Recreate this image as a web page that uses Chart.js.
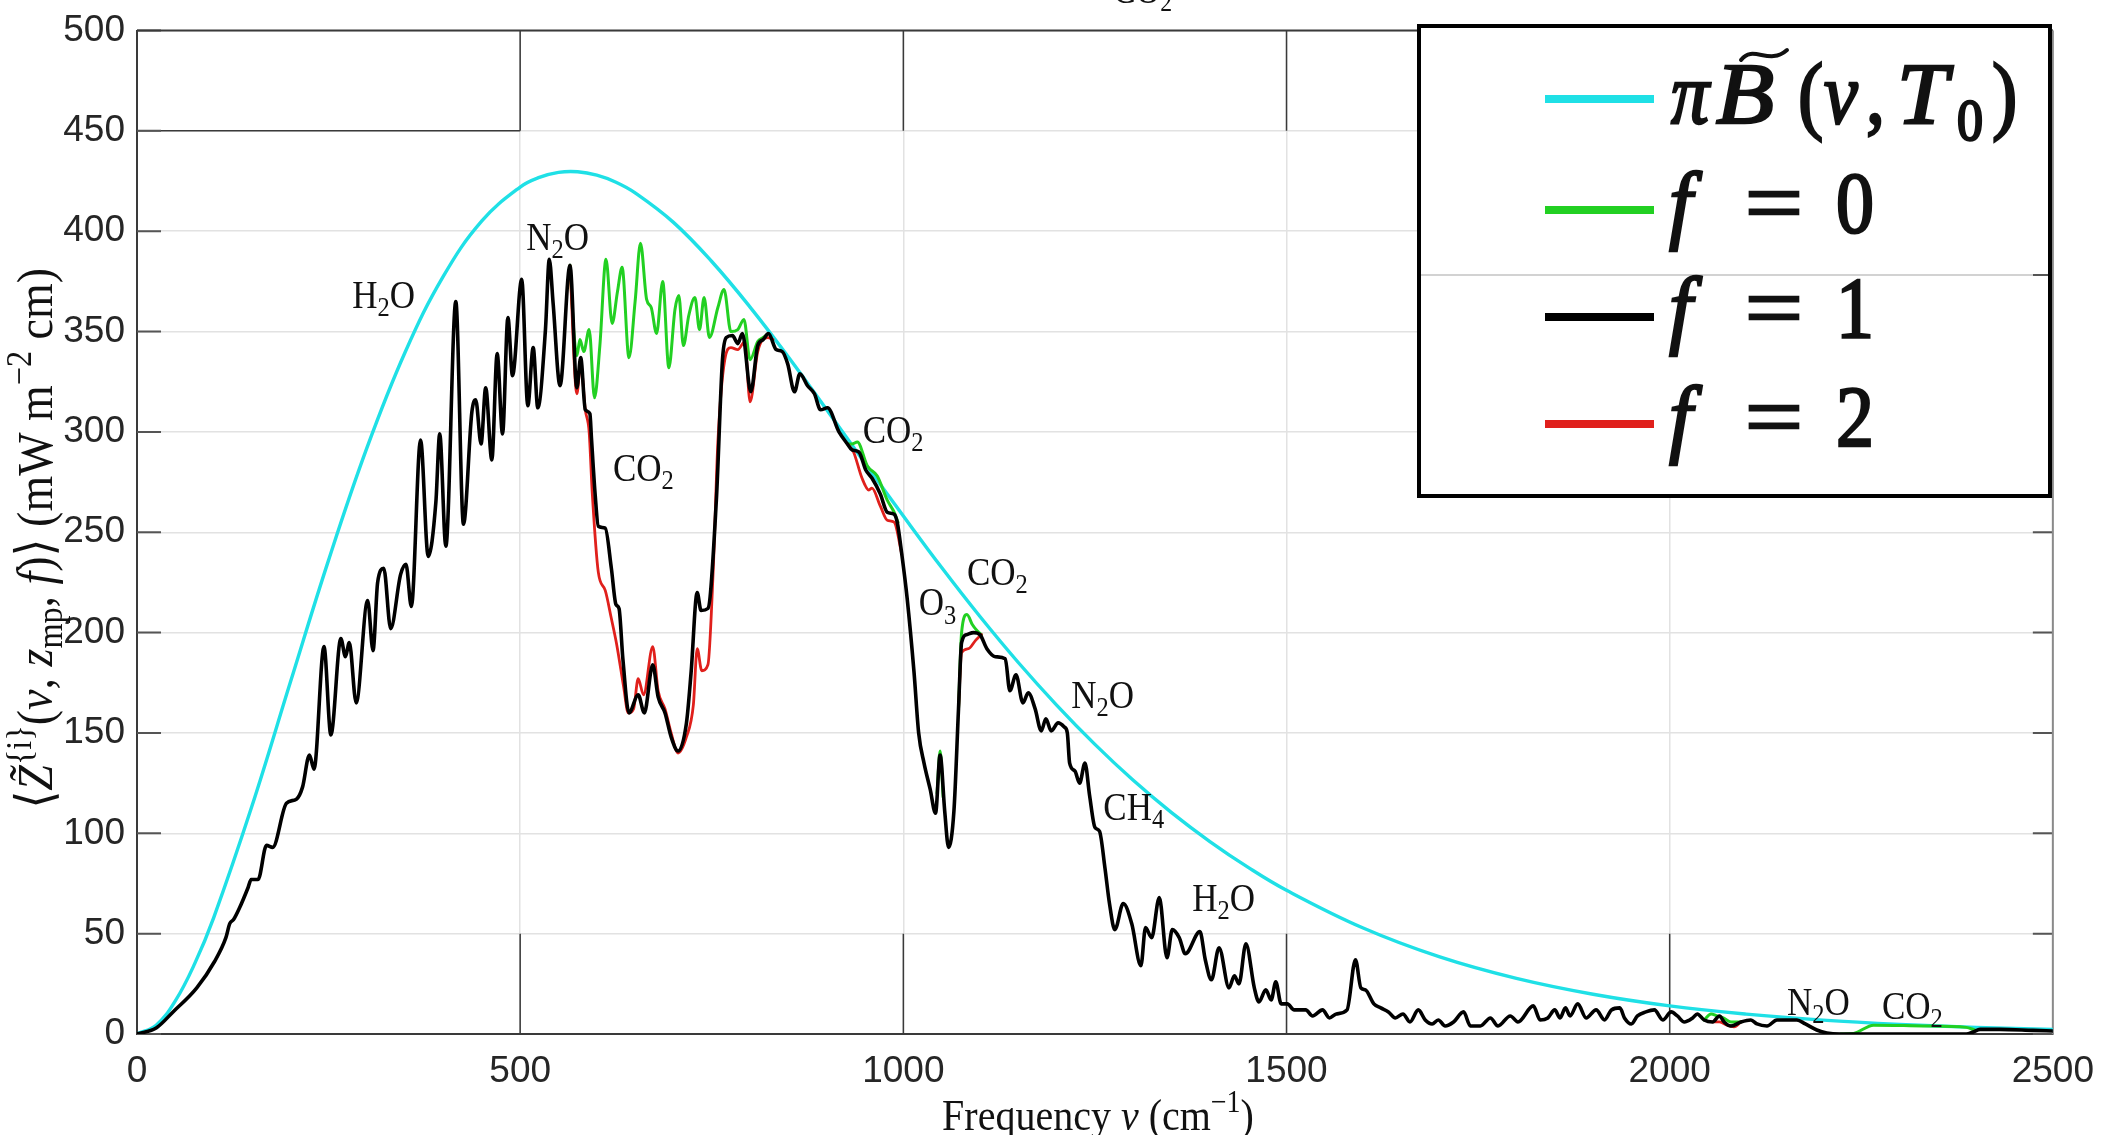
<!DOCTYPE html>
<html>
<head>
<meta charset="utf-8">
<script src="https://cdn.jsdelivr.net/npm/chart.js@4.4.1/dist/chart.umd.min.js"></script>
<style>
  html, body { margin: 0; padding: 0; background: #fff; }
</style>
</head>
<body>
<canvas id="c" width="2113" height="1135"></canvas>
<script>
// values: frequency in cm^-1, flux in mW m^-2 cm

const xTicks = [0, 500, 1000, 1500, 2000, 2500];
const yTicks = [0, 50, 100, 150, 200, 250, 300, 350, 400, 450, 500];

// pi * B(nu, T0), cyan
const nuPlanck = [0, 25, 50, 75, 100, 150, 200, 250, 300, 350,
  400, 450, 500, 525, 550, 575, 600, 625, 650, 700,
  750, 800, 850, 900, 950, 1000, 1050, 1100, 1150, 1200,
  1250, 1300, 1350, 1400, 1450, 1500, 1600, 1700, 1800, 1900,
  2000, 2100, 2200, 2300, 2400, 2500];
const planck = [0, 4.4, 16.5, 34.8, 57.9, 113.6, 175.1, 236.1, 292, 339.8,
  377.7, 405.1, 422, 426.8, 429.3, 429.6, 427.9, 424.4, 419.1, 404.4,
  384.9, 362.2, 337.3, 311, 284.4, 258.1, 232.4, 208, 185.1, 163.9,
  144.3, 126.4, 110.3, 95.9, 83, 71.6, 52.8, 38.4, 27.7, 19.8,
  14, 9.9, 6.9, 4.8, 3.3, 2.3];

// f = 1, black
const nuF1 = [0, 25, 47, 78, 101, 116, 121, 126, 134, 145,
  149, 158, 169, 177, 195, 208, 216, 225, 231, 244,
  253, 266, 272, 277, 286, 301, 308, 314, 322, 331,
  344, 351, 358, 370, 380, 390, 395, 403, 416, 426,
  437, 442, 449, 455, 463, 470, 477, 484, 490, 502,
  510, 517, 523, 533, 538, 543, 552, 565, 574, 579,
  585, 591, 593, 598, 602, 611, 619, 625, 629, 634,
  642, 654, 662, 673, 680, 689, 697, 706, 717, 723,
  731, 736, 745, 756, 764, 769, 777, 784, 790, 801,
  810, 817, 824, 834, 842, 849, 858, 865, 875, 884,
  892, 901, 916, 927, 933, 942, 951, 959, 970, 979,
  988, 992, 998, 1005, 1014, 1020, 1027, 1035, 1042, 1048,
  1054, 1059, 1066, 1072, 1076, 1083, 1092, 1100, 1109, 1120,
  1133, 1139, 1147, 1156, 1163, 1172, 1180, 1186, 1193, 1202,
  1210, 1214, 1217, 1224, 1230, 1237, 1243, 1250, 1256, 1263,
  1269, 1276, 1287, 1298, 1310, 1316, 1324, 1334, 1344, 1351,
  1360, 1368, 1387, 1394, 1402, 1412, 1425, 1432, 1438, 1447,
  1458, 1464, 1473, 1480, 1486, 1493, 1501, 1510, 1525, 1534,
  1547, 1556, 1565, 1579, 1590, 1597, 1603, 1614, 1623, 1633,
  1642, 1652, 1661, 1672, 1681, 1690, 1698, 1707, 1718, 1731,
  1740, 1753, 1766, 1776, 1792, 1802, 1822, 1831, 1841, 1850,
  1857, 1864, 1870, 1880, 1891, 1904, 1915, 1924, 1935, 1941,
  1950, 1958, 1969, 1980, 1991, 2002, 2010, 2019, 2030, 2036,
  2045, 2056, 2065, 2071, 2080, 2093, 2106, 2114, 2127, 2140,
  2153, 2166, 2177, 2192, 2205, 2223, 2300, 2387, 2396, 2405,
  2431, 2474, 2500];
const f1 = [0, 3, 11, 23, 36, 48, 55, 57, 63, 73,
  77, 77, 94, 93, 115, 117, 123, 139, 132, 193,
  149, 197, 188, 195, 165, 216, 191, 225, 232, 202,
  229, 234, 213, 296, 238, 265, 299, 243, 365, 254,
  310, 316, 294, 322, 286, 339, 299, 357, 328, 376,
  313, 342, 312, 351, 386, 364, 323, 383, 322, 337,
  311, 309, 297, 268, 253, 252, 232, 214, 212, 187,
  160, 169, 160, 184, 168, 160, 148, 141, 155, 180,
  220, 211, 212, 266, 336, 347, 348, 344, 349, 320,
  343, 346, 349, 341, 340, 334, 320, 329, 323, 319,
  311, 312, 300, 294, 291, 290, 281, 277, 269, 260,
  259, 255, 239, 217, 180, 150, 135, 122, 110, 139,
  111, 93, 111, 162, 195, 199, 200, 199, 192, 188,
  187, 171, 179, 165, 170, 162, 151, 157, 151, 155,
  153, 150, 135, 131, 125, 135, 119, 103, 101, 83,
  65, 52, 65, 55, 34, 53, 48, 68, 38, 52,
  48, 40, 51, 37, 27, 43, 23, 29, 25, 45,
  23, 16, 22, 17, 26, 15, 15, 12, 12, 9,
  12, 8, 10, 12, 37, 23, 22, 15, 13, 11,
  8, 10, 6, 12, 7, 5, 7, 4, 6, 11,
  4, 4, 8, 4, 9, 6, 14, 7, 8, 12,
  8, 13, 9, 15, 8, 12, 7, 12, 13, 8,
  5, 9, 11, 12, 7, 11, 9, 6, 8, 10,
  7, 6, 9, 6, 4, 6, 7, 5, 4, 7,
  7, 7, 5, 2, 0.5, 0, 0, 0, 1, 2.3,
  2.3, 1.8, 1.5];

// f = 0, green (only where it leaves the black curve; null breaks the line)
const nuF0 = [565, 570, 574, 578, 583, 590, 597, 604, 612, 620,
  627, 633, 642, 650, 657, 665, 671, 678, 686, 694,
  702, 707, 713, 720, 728, 734, 740, 747, 758, 766,
  775, 784, 792, 800, 810, 817, 824, 880,
  927, 933, 940, 953, 966, 979, 988, 993, 1020,
  1044, 1048, 1052, 1060,
  1072, 1076, 1083, 1090, 1096, 1102, 1500,
  2045, 2054, 2062, 2070, 2080, 2093, 2150,
  2223, 2240, 2266, 2330, 2387, 2398];
const f0 = [383, 350, 338, 346, 340, 351, 317, 343, 386, 354,
  370, 382, 337, 365, 394, 366, 362, 349, 375, 332,
  361, 368, 343, 358, 367, 351, 367, 347, 362, 371,
  350, 351, 356, 336, 345, 347, 349, null,
  294, 294, 295, 283, 278, 266, 260, 255, null,
  120, 141, 118, null,
  162, 200, 209, 204, 201, 199, null,
  7, 10, 9, 8, 6, 6, null,
  0, 0.3, 4.4, 4, 3.3, 2];

// f = 2, red
const nuF2 = [565, 574, 579, 585, 590, 594, 602, 611, 619, 626,
  635, 641, 648, 654, 661, 673, 680, 689, 697, 706,
  717, 726, 731, 737, 745, 752, 758, 767, 775, 784,
  793, 800, 810, 823, 830, 880,
  927, 935, 946, 955, 959, 970, 979, 988, 998, 1040,
  1072, 1076, 1085, 1094, 1102, 1500,
  2056, 2065, 2075, 2084, 2093];
const f2 = [383, 319, 334, 311, 300, 270, 230, 221, 207, 194,
  173, 160, 162, 177, 169, 193, 171, 162, 150, 140,
  148, 164, 192, 181, 184, 232, 295, 336, 342, 341,
  345, 315, 340, 347, 346, null,
  294, 290, 277, 271, 272, 263, 256, 255, 239, null,
  162, 190, 192, 196, 199, null,
  6, 6, 4.4, 3.6, 6];

// gas labels: text, frequency of left edge, value at text middle
const gasLabels = [
  ['H_2O', 281, 368], ['N_2O', 508, 397], ['CO_2', 621, 282],
  ['CO_2', 947, 301], ['O_3', 1020, 215], ['CO_2', 1083, 230],
  ['N_2O', 1219, 169], ['CH_4', 1261, 113], ['H_2O', 1377, 68],
  ['N_2O', 2153, 16], ['CO_2', 2277, 14]
];

const CYAN = '#1fe0e6', GREEN = '#22d022', RED = '#e0201c', BLACK = '#000';
const SERIF = '"Liberation Serif", "DejaVu Serif", serif';
const SANS = '"Liberation Sans", Arial, sans-serif';

const toXY = (xs, ys) => xs.map((x, i) => ({ x: x, y: ys[i] }));

// text with sub/superscripts; style: n, i, sub, sup, isub, isup
function drawRich(ctx, parts, x, y, size, opts) {
  opts = opts || {};
  const items = parts.map(([t, s]) => {
    const small = s.includes('sub') || s.includes('sup');
    const fs = small ? size * 0.7 : size;
    const font = (s.startsWith('i') ? 'italic ' : '') + (opts.weight || '') + ' ' + fs + 'px ' + SERIF;
    ctx.font = font;
    const dy = s.includes('sub') ? size * 0.2 : s.includes('sup') ? -size * 0.4 : 0;
    return { t, font, dy, w: ctx.measureText(t).width };
  });
  const total = items.reduce((a, it) => a + it.w, 0);
  ctx.save();
  ctx.translate(x, y);
  if (opts.rotate) ctx.rotate(opts.rotate);
  ctx.scale(1, opts.sy || 1);
  ctx.fillStyle = opts.color || '#111';
  ctx.textAlign = 'left';
  ctx.textBaseline = 'alphabetic';
  let cx = opts.align === 'center' ? -total / 2 : 0;
  items.forEach(it => {
    ctx.font = it.font;
    ctx.fillText(it.t, cx, it.dy);
    cx += it.w;
  });
  ctx.restore();
}

function chem(s) {
  const out = [];
  for (let i = 0; i < s.length; i++) {
    if (s[i] === '_') { out.push([s[i + 1], 'sub']); i++; }
    else out.push([s[i], 'n']);
  }
  return out;
}

// legend glyph, filled and lightly stroked to get the heavy look of the original
function glyph(ctx, t, font, x, base, sx, sy) {
  ctx.save();
  ctx.translate(x, base);
  ctx.scale(sx, sy);
  ctx.font = font;
  ctx.lineWidth = 2.2;
  ctx.strokeStyle = '#111';
  ctx.fillText(t, 0, 0);
  ctx.strokeText(t, 0, 0);
  ctx.restore();
}

function drawLegend(ctx) {
  const L = 1419, T = 26, W = 631, H = 470;
  ctx.save();
  ctx.fillStyle = '#fff';
  ctx.fillRect(L, T, W, H);
  ctx.strokeStyle = '#d2d2d2';
  ctx.lineWidth = 2;
  ctx.beginPath(); ctx.moveTo(L, T + 249); ctx.lineTo(L + W, T + 249); ctx.stroke();
  ctx.strokeStyle = '#555';
  ctx.beginPath(); ctx.moveTo(L + W - 17, T + 249); ctx.lineTo(L + W, T + 249); ctx.stroke();
  ctx.strokeStyle = '#000';
  ctx.lineWidth = 4;
  ctx.strokeRect(L, T, W, H);

  const sw0 = L + 126, sw1 = L + 235;
  const rows = [[CYAN, 99], [GREEN, 210], [BLACK, 317], [RED, 424]];
  ctx.lineWidth = 8;
  ctx.lineCap = 'butt';
  rows.forEach(([c, y]) => {
    ctx.strokeStyle = c;
    ctx.beginPath(); ctx.moveTo(sw0, y); ctx.lineTo(sw1, y); ctx.stroke();
  });

  ctx.fillStyle = '#111';
  ctx.textAlign = 'left';
  ctx.textBaseline = 'alphabetic';
  const ib = 'italic 76px ' + SERIF, b = '76px ' + SERIF, sb = '52px ' + SERIF;
  const sy = 1.15;
  // pi B~(nu, T0)
  glyph(ctx, '\u03c0', ib, L + 252, 123, 1, sy);
  glyph(ctx, 'B', ib, L + 297, 123, 1.25, sy);
  ctx.strokeStyle = '#111'; ctx.lineWidth = 4; ctx.lineCap = 'round';
  ctx.beginPath(); ctx.moveTo(L + 322, 60); ctx.bezierCurveTo(L + 334, 44, L + 350, 66, L + 368, 50); ctx.stroke();
  glyph(ctx, '(', b, L + 379, 123, 1, sy);
  glyph(ctx, '\u03bd', ib, L + 405, 123, 1, sy);
  glyph(ctx, ',', b, L + 447, 123, 1, sy);
  glyph(ctx, 'T', ib, L + 478, 123, 1.2, sy);
  glyph(ctx, '0', sb, L + 538, 140, 1, sy);
  glyph(ctx, ')', b, L + 573, 123, 1, sy);
  // f = 0 / 1 / 2
  [['0', 232], ['1', 337], ['2', 446]].forEach(([d, base]) => {
    glyph(ctx, 'f', ib, L + 250, base, 1.1, sy);
    glyph(ctx, '=', b, L + 326, base, 1.35, sy);
    glyph(ctx, d, b, L + 417, base, 1, sy);
  });
  ctx.restore();
}

const decor = {
  id: 'decor',
  beforeDatasetsDraw(chart) {
    const { ctx, chartArea: a, scales: { x, y } } = chart;
    ctx.save();
    // darker grid pieces as in the source picture
    ctx.strokeStyle = '#3a3a3a';
    ctx.lineWidth = 1.5;
    ctx.beginPath();
    [500, 1000, 1500].forEach(v => {
      ctx.moveTo(x.getPixelForValue(v), y.getPixelForValue(500));
      ctx.lineTo(x.getPixelForValue(v), y.getPixelForValue(450));
    });
    [500, 1000, 1500, 2000].forEach(v => {
      ctx.moveTo(x.getPixelForValue(v), y.getPixelForValue(0));
      ctx.lineTo(x.getPixelForValue(v), y.getPixelForValue(50));
    });
    ctx.moveTo(a.left, y.getPixelForValue(450));
    ctx.lineTo(x.getPixelForValue(500), y.getPixelForValue(450));
    ctx.stroke();
    // inner ticks, left and right
    ctx.strokeStyle = '#555';
    ctx.lineWidth = 2;
    ctx.beginPath();
    yTicks.forEach(v => {
      const py = y.getPixelForValue(v);
      ctx.moveTo(a.left, py); ctx.lineTo(a.left + 24, py);
      ctx.moveTo(a.right - 20, py); ctx.lineTo(a.right, py);
    });
    ctx.stroke();
    // top and right frame
    ctx.strokeStyle = '#3a3a3a';
    ctx.beginPath(); ctx.moveTo(a.left, a.top); ctx.lineTo(a.right, a.top); ctx.stroke();
    ctx.strokeStyle = '#8a8a8a';
    ctx.beginPath(); ctx.moveTo(a.right, a.top); ctx.lineTo(a.right, a.bottom); ctx.stroke();
    ctx.restore();
  },
  afterDraw(chart) {
    const { ctx, chartArea: a, scales: { x, y } } = chart;
    gasLabels.forEach(([t, nu, v]) => {
      drawRich(ctx, chem(t), x.getPixelForValue(nu), y.getPixelForValue(v) + 13, 35, { sy: 1.15 });
    });
    drawLegend(ctx);
    // axis titles
    drawRich(ctx, [['Frequency ', 'n'], ['\u03bd', 'i'], [' (cm', 'n'], ['\u22121', 'sup'], [')', 'n']],
      1098, 1130, 40, { align: 'center', sy: 1.12 });
    drawRich(ctx, [['\u27e8', 'n'], ['Z\u0303', 'i'], ['{i}', 'sup'], ['(', 'n'], ['\u03bd', 'i'], [', ', 'n'],
      ['z', 'i'], ['mp', 'sub'], [', ', 'n'], ['f', 'i'], [')\u27e9 (mW m', 'n'], ['\u22122', 'sup'], [' cm)', 'n']],
      52, (a.top + a.bottom) / 2 + 6, 46, { align: 'center', rotate: -Math.PI / 2, sy: 1.12 });
    // title, cut off at the top edge of the picture
    drawRich(ctx, [['CO', 'n'], ['2', 'sub']], 1113, 3, 34, { sy: 1.15 });
  }
};

new Chart(document.getElementById('c'), {
  type: 'line',
  data: {
    datasets: [
      { label: 'f = 1', data: toXY(nuF1, f1), borderColor: BLACK, borderWidth: 3.6, order: 0 },
      { label: 'f = 2', data: toXY(nuF2, f2), borderColor: RED, borderWidth: 2.8, order: 1 },
      { label: 'f = 0', data: toXY(nuF0, f0), borderColor: GREEN, borderWidth: 3, order: 2 },
      { label: '\u03c0B(\u03bd, T0)', data: toXY(nuPlanck, planck), borderColor: CYAN, borderWidth: 3.4, order: 3,
        cubicInterpolationMode: 'default', tension: 0.4 }
    ]
  },
  options: {
    responsive: false,
    animation: false,
    devicePixelRatio: 1,
    spanGaps: false,
    layout: { padding: { top: 20, right: 53, left: 0, bottom: 0 } },
    elements: {
      point: { radius: 0 },
      line: { cubicInterpolationMode: 'monotone', borderJoinStyle: 'round', borderCapStyle: 'round' }
    },
    scales: {
      x: {
        type: 'linear', min: 0, max: 2500,
        afterBuildTicks: s => { s.ticks = xTicks.map(v => ({ value: v })); },
        afterFit: s => { s.height = 101; },
        ticks: { font: { family: SANS, size: 37, lineHeight: 1 }, color: '#262626', padding: 19, maxRotation: 0,
          callback: v => String(v) },
        grid: { color: '#e2e2e2', lineWidth: 1.5, drawTicks: false },
        border: { color: '#3a3a3a', width: 2 }
      },
      y: {
        type: 'linear', min: 0, max: 500,
        afterBuildTicks: s => { s.ticks = yTicks.map(v => ({ value: v })); },
        afterFit: s => { s.width = 137; },
        ticks: { font: { family: SANS, size: 37, lineHeight: 1 }, color: '#262626', padding: 12,
          callback: v => String(v) },
        grid: { color: '#e2e2e2', lineWidth: 1.5, drawTicks: false },
        border: { color: '#3a3a3a', width: 2 }
      }
    },
    plugins: { legend: { display: false }, tooltip: { enabled: false } }
  },
  plugins: [decor]
});
</script>
</body>
</html>
